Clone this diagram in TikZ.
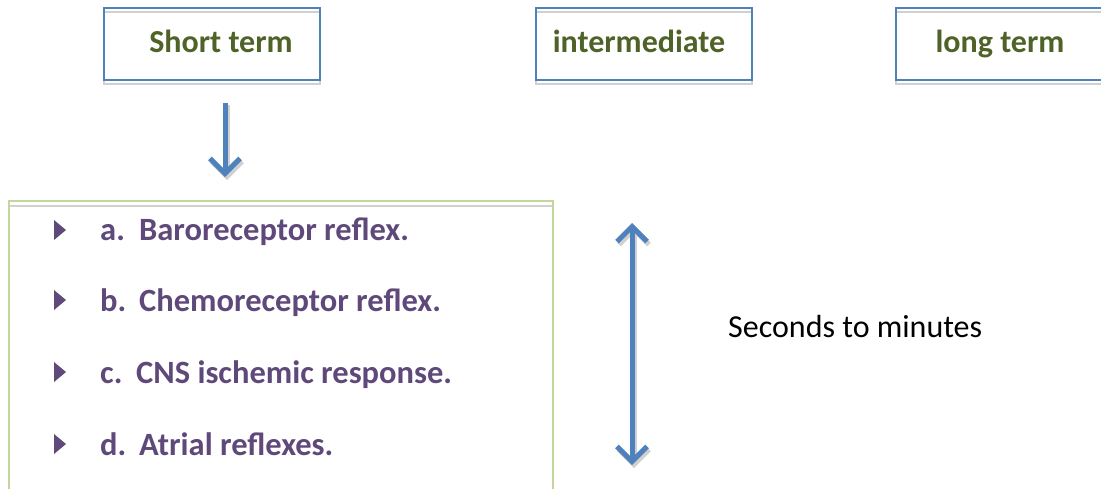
\documentclass[tikz,border=0pt]{standalone}
\usepackage{fontspec}
\setmainfont{Carlito}
\usetikzlibrary{arrows.meta}
\definecolor{hgreen}{HTML}{4F6228}
\definecolor{lpurple}{HTML}{5F497A}
\definecolor{oblue}{HTML}{4F81BD}
\definecolor{lgreen}{HTML}{C3D69B}
\definecolor{shade}{HTML}{D0D0D0}
\tikzset{
  headbox/.style={draw=oblue, line width=2pt, minimum width=216pt, minimum height=72pt, inner sep=0pt},
  headshadow/.style={draw=shade, line width=2.5pt},
  headtext/.style={text=hgreen, font=\fontsize{32}{38}\selectfont\bfseries, inner sep=0pt, anchor=base},
  itemtext/.style={text=lpurple, font=\fontsize{32.5}{38}\selectfont\bfseries, inner sep=0pt, anchor=base west},
  tipb/.style={},
  bluearrow/.style={draw=oblue, line width=5pt, -{Straight Barb[length=15pt,width=30pt,line width=5pt]}},
  bluedouble/.style={draw=oblue, line width=5pt, {Straight Barb[length=15pt,width=30pt,line width=5pt]}-{Straight Barb[length=15pt,width=30pt,line width=5pt]}},
  shadowarrow/.style={draw=shade, line width=5pt, -{Straight Barb[length=15pt,width=30pt,line width=5pt]}},
  shadowdouble/.style={draw=shade, line width=5pt, {Straight Barb[length=15pt,width=30pt,line width=5pt]}-{Straight Barb[length=15pt,width=30pt,line width=5pt]}},
  bullet/.style={fill=lpurple, draw=none}
}
\begin{document}
\begin{tikzpicture}[x=1pt,y=-1pt]
\useasboundingbox (0,0) rectangle (1101,488);
% header boxes: shadows
\draw[headshadow] (104,12) rectangle (320,84);
\draw[headshadow] (536,12) rectangle (752,84);
\draw[headshadow] (896,12) rectangle (1112,84);
\node[headbox] (short) at (212,44) {};
\node[headbox] (inter) at (644,44) {};
\node[headbox] (long) at (1004,44) {};
\node[headtext] (shortt) at (221,52) {Short term};
\node[headtext] (intert) at (639,52) {intermediate};
\node[headtext] (longt) at (1000,52) {long term};
% list box
\draw[draw=shade, line width=2pt] (8,206) -- (552,206);
\node[draw=lgreen, line width=2pt, minimum width=544pt, minimum height=290pt, inner sep=0pt, anchor=north west] (list) at (8,200) {};
% down arrow
\coordinate (dtop) at (225,103);
\coordinate (dbot) at (225,177);
\coordinate (dtops) at (227,105);
\coordinate (dbots) at (227,180);
\draw[shadowarrow] (dtops) -- (dbots);
\draw[bluearrow] (dtop) -- (dbot);
% double arrow
\coordinate (vtop) at (632,223);
\coordinate (vbot) at (632,465);
\coordinate (vtops) at (634,226);
\coordinate (vbots) at (634,468);
\draw[shadowdouble] (vtops) -- (vbots);
\draw[bluedouble] (vtop) -- (vbot);
\node[font=\fontsize{32}{38}\selectfont, inner sep=0pt, anchor=base west] (secs) at (728,337) {Seconds to minutes};
% bullets and items
\foreach \y/\nm in {230/ba,300/bb,372/bc,444/bd}{
  \fill[bullet] (54,\y-10) -- (66,\y) -- (54,\y+10) -- cycle;
}
\node[itemtext] (ia) at (100,240) {\makebox[39pt][l]{a.}Baroreceptor reflex.};
\node[itemtext] (ib) at (100,311) {\makebox[39pt][l]{b.}Chemoreceptor reflex.};
\node[itemtext] (ic) at (100,383) {\makebox[36pt][l]{c.}CNS ischemic response.};
\node[itemtext] (id) at (100,455) {\makebox[39pt][l]{d.}Atrial reflexes.};
\end{tikzpicture}
\end{document}
